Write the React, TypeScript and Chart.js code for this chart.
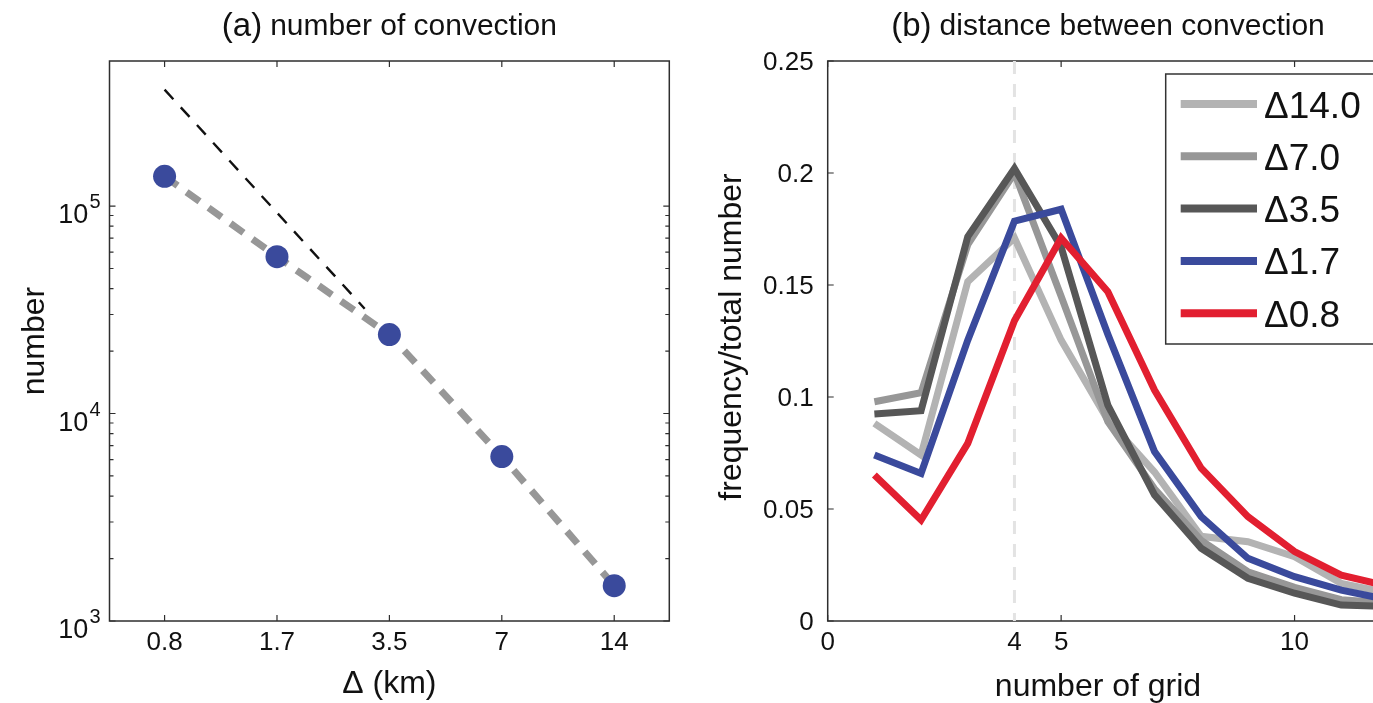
import React, { useEffect, useRef } from "react";
import { Chart, registerables } from "chart.js";

Chart.register(...registerables);

const FONT = '"Liberation Sans", Arial, Helvetica, sans-serif';

// ---- (a) number of convection vs grid spacing ----
const spacingLabels = ["0.8", "1.7", "3.5", "7", "14"];
const spacingIndex = [0, 1, 2, 3, 4];
const convectionCount = [1.39e5, 5.7e4, 2.4e4, 6.2e3, 1.48e3];
// reference slope (proportional to spacing^-2)
const slopeRefIndex = [0, 1.78];
const slopeRefCount = [3.64e5, 3.2e4];
const countDecades = [1e3, 1e4, 1e5];
const countExponents = ["3", "4", "5"];

// ---- (b) distance between convection ----
const gridDistance = [1, 2, 3, 4, 5, 6, 7, 8, 9, 10, 11, 12];
const seriesLabels = ["\u039414.0", "\u03947.0", "\u03943.5", "\u03941.7", "\u03940.8"];
const seriesColors = ["#b3b3b3", "#979797", "#575757", "#3a4a9c", "#e21f30"];
const freqD140 = [0.0882, 0.0741, 0.1515, 0.171, 0.1254, 0.0897, 0.0665, 0.0378, 0.0354, 0.0287, 0.0168, 0.0125];
const freqD070 = [0.0979, 0.1019, 0.168, 0.2, 0.145, 0.089, 0.059, 0.036, 0.022, 0.015, 0.0095, 0.008];
const freqD035 = [0.0924, 0.0939, 0.1716, 0.202, 0.167, 0.0964, 0.0563, 0.0325, 0.0191, 0.0124, 0.0071, 0.0065];
const freqD017 = [0.0741, 0.0659, 0.1254, 0.1785, 0.1838, 0.128, 0.0756, 0.0466, 0.028, 0.0198, 0.0138, 0.0095];
const freqD008 = [0.0652, 0.0451, 0.0793, 0.134, 0.171, 0.147, 0.1031, 0.0682, 0.0466, 0.031, 0.0205, 0.0155];
const seriesValues = [freqD140, freqD070, freqD035, freqD017, freqD008];
const freqTicks = [0, 0.05, 0.1, 0.15, 0.2, 0.25];
const freqTickLabels = ["0", "0.05", "0.1", "0.15", "0.2", "0.25"];
const distanceTicks = [0, 4, 5, 10];
const peakDistance = 4;

const AXIS_COLOR = "#2e2e2e";
const TICK_FONT = `26px ${FONT}`;
const LABEL_FONT = `32px ${FONT}`;

const axesA = {
  id: "axesA",
  afterDraw(chart: any) {
    const { ctx, chartArea: a, scales } = chart;
    const xs = scales.x;
    const ys = scales.y;
    ctx.save();
    ctx.strokeStyle = AXIS_COLOR;
    ctx.lineWidth = 1.5;
    ctx.strokeRect(a.left, a.top, a.right - a.left, a.bottom - a.top);
    ctx.lineWidth = 1.2;
    ctx.beginPath();
    spacingIndex.forEach((v) => {
      const px = xs.getPixelForValue(v);
      ctx.moveTo(px, a.bottom);
      ctx.lineTo(px, a.bottom - 6);
      ctx.moveTo(px, a.top);
      ctx.lineTo(px, a.top + 6);
    });
    countDecades.forEach((d, k) => {
      const last = k === countDecades.length - 1 ? 1 : 9;
      for (let m = 1; m <= last; m++) {
        const py = ys.getPixelForValue(m * d);
        const len = m === 1 ? 6 : 4;
        ctx.moveTo(a.left, py);
        ctx.lineTo(a.left + len, py);
        ctx.moveTo(a.right, py);
        ctx.lineTo(a.right - len, py);
      }
    });
    ctx.stroke();

    ctx.fillStyle = "#111";
    // x tick labels
    ctx.font = TICK_FONT;
    ctx.textAlign = "center";
    ctx.textBaseline = "alphabetic";
    spacingIndex.forEach((v, i) => {
      ctx.fillText(spacingLabels[i], xs.getPixelForValue(v), a.bottom + 29);
    });
    // y tick labels 10^k
    countDecades.forEach((d, i) => {
      const py = ys.getPixelForValue(d);
      ctx.font = `20px ${FONT}`;
      ctx.textAlign = "right";
      const supW = ctx.measureText(countExponents[i]).width;
      const right = a.left - 9;
      ctx.fillText(countExponents[i], right, py + 2);
      ctx.font = `27px ${FONT}`;
      ctx.fillText("10", right - supW - 1, py + 17);
    });
    // titles
    const cx = (a.left + a.right) / 2;
    drawTitle(ctx, "(a)", "number of convection", cx, 35);
    ctx.fillStyle = "#111";
    ctx.font = LABEL_FONT;
    ctx.textAlign = "center";
    ctx.fillText("\u0394 (km)", cx, 693);
    ctx.save();
    ctx.translate(44, (a.top + a.bottom) / 2);
    ctx.rotate(-Math.PI / 2);
    ctx.fillText("number", 0, 0);
    ctx.restore();
    ctx.restore();
  },
};

function drawTitle(ctx: any, tag: string, text: string, cx: number, baseline: number) {
  ctx.save();
  ctx.fillStyle = "#111";
  ctx.textBaseline = "alphabetic";
  ctx.textAlign = "left";
  ctx.font = `33px ${FONT}`;
  const tagW = ctx.measureText(tag).width;
  ctx.font = `30px ${FONT}`;
  const gap = 8;
  const textW = ctx.measureText(text).width;
  const x0 = cx - (tagW + gap + textW) / 2;
  ctx.font = `33px ${FONT}`;
  ctx.fillText(tag, x0, baseline + 1);
  ctx.font = `30px ${FONT}`;
  ctx.fillText(text, x0 + tagW + gap, baseline);
  ctx.restore();
}

const axesB = {
  id: "axesB",
  beforeDatasetsDraw(chart: any) {
    const { ctx, chartArea: a, scales } = chart;
    const xs = scales.x;
    const ys = scales.y;
    ctx.save();
    ctx.strokeStyle = AXIS_COLOR;
    ctx.lineWidth = 1.5;
    ctx.beginPath();
    ctx.moveTo(a.right + 2, a.top);
    ctx.lineTo(a.left, a.top);
    ctx.lineTo(a.left, a.bottom);
    ctx.lineTo(a.right + 2, a.bottom);
    ctx.stroke();
    ctx.lineWidth = 1.2;
    ctx.beginPath();
    distanceTicks.forEach((v) => {
      const px = xs.getPixelForValue(v);
      ctx.moveTo(px, a.bottom);
      ctx.lineTo(px, a.bottom - 6);
      ctx.moveTo(px, a.top);
      ctx.lineTo(px, a.top + 6);
    });
    freqTicks.forEach((v) => {
      const py = ys.getPixelForValue(v);
      ctx.moveTo(a.left, py);
      ctx.lineTo(a.left + 6, py);
    });
    ctx.stroke();
    // dashed marker at the most frequent distance
    const px4 = xs.getPixelForValue(peakDistance);
    ctx.strokeStyle = "#e3e3e3";
    ctx.lineWidth = 3;
    ctx.setLineDash([13, 10]);
    ctx.beginPath();
    ctx.moveTo(px4, a.top);
    ctx.lineTo(px4, a.bottom);
    ctx.stroke();
    ctx.restore();
  },
  afterDatasetsDraw(chart: any) {
    const { ctx, chartArea: a, scales } = chart;
    const xs = scales.x;
    const ys = scales.y;
    ctx.save();
    // legend
    const boxL = 475.7;
    const boxT = 74;
    ctx.fillStyle = "#fff";
    ctx.fillRect(boxL, boxT, 400, 270);
    ctx.strokeStyle = "#333";
    ctx.lineWidth = 1.5;
    ctx.strokeRect(boxL, boxT, 400, 270);
    seriesLabels.forEach((lab, i) => {
      const ry = 104 + 52.3 * i;
      ctx.strokeStyle = seriesColors[i];
      ctx.lineWidth = 8;
      ctx.lineCap = "butt";
      ctx.beginPath();
      ctx.moveTo(490.7, ry);
      ctx.lineTo(567, ry);
      ctx.stroke();
      ctx.fillStyle = "#111";
      ctx.font = `37px ${FONT}`;
      ctx.textAlign = "left";
      ctx.textBaseline = "alphabetic";
      ctx.fillText(lab, 574, ry + 13.5);
    });
    // tick labels
    ctx.fillStyle = "#111";
    ctx.font = TICK_FONT;
    ctx.textAlign = "center";
    distanceTicks.forEach((v) => {
      ctx.fillText(String(v), xs.getPixelForValue(v), a.bottom + 29);
    });
    ctx.textAlign = "right";
    freqTicks.forEach((v, i) => {
      ctx.fillText(freqTickLabels[i], a.left - 14, ys.getPixelForValue(v) + 9);
    });
    drawTitle(ctx, "(b)", "distance between convection", 418, 35);
    ctx.fillStyle = "#111";
    ctx.font = LABEL_FONT;
    ctx.textAlign = "center";
    ctx.fillText("number of grid", 408, 696);
    ctx.save();
    ctx.translate(51, 337);
    ctx.rotate(-Math.PI / 2);
    ctx.fillText("frequency/total number", 0, 0);
    ctx.restore();
    ctx.restore();
  },
};

export default function App() {
  const leftRef = useRef<HTMLCanvasElement | null>(null);
  const rightRef = useRef<HTMLCanvasElement | null>(null);

  useEffect(() => {
    const left = new Chart(leftRef.current as HTMLCanvasElement, {
      type: "line",
      data: {
        datasets: [
          {
            label: "number",
            data: spacingIndex.map((x, i) => ({ x, y: convectionCount[i] })),
            borderColor: "#979797",
            borderWidth: 7,
            borderDash: [16, 11],
            pointRadius: 11.5,
            pointHoverRadius: 11.5,
            pointBackgroundColor: "#3a4a9c",
            pointBorderWidth: 0,
          },
          {
            label: "slope",
            data: slopeRefIndex.map((x, i) => ({ x, y: slopeRefCount[i] })),
            borderColor: "#111",
            borderWidth: 2.4,
            borderDash: [13, 11],
            pointRadius: 0,
          },
        ],
      },
      options: {
        animation: false,
        responsive: false,
        events: [],
        layout: { padding: { left: 109.5, top: 61, right: 690 - 669.3, bottom: 703 - 621 } },
        scales: {
          x: { type: "linear", min: -0.49, max: 4.49, display: false },
          y: { type: "logarithmic", min: 1000, max: 5e5, display: false },
        },
        plugins: { legend: { display: false }, tooltip: { enabled: false } },
      },
      plugins: [axesA],
    } as any);

    const right = new Chart(rightRef.current as HTMLCanvasElement, {
      type: "line",
      data: {
        datasets: seriesLabels.map((label, i) => ({
          label,
          data: gridDistance.map((x, j) => ({ x, y: seriesValues[i][j] })),
          borderColor: seriesColors[i],
          borderWidth: 7,
          borderJoinStyle: "miter",
          pointRadius: 0,
          order: seriesLabels.length - 1 - i,
        })),
      },
      options: {
        animation: false,
        responsive: false,
        events: [],
        layout: { padding: { left: 137.7, top: 61, right: 0, bottom: 703 - 621 } },
        scales: {
          x: { type: "linear", min: 0, max: 11.68, display: false },
          y: { type: "linear", min: 0, max: 0.25, display: false },
        },
        plugins: { legend: { display: false }, tooltip: { enabled: false } },
      },
      plugins: [axesB],
    } as any);

    return () => {
      left.destroy();
      right.destroy();
    };
  }, []);

  return (
    <div
      style={{
        position: "absolute",
        left: 0,
        top: 0,
        width: 1373,
        height: 703,
        background: "#fff",
        overflow: "hidden",
      }}
    >
      <canvas
        ref={leftRef}
        width={690}
        height={703}
        style={{ position: "absolute", left: 0, top: 0, width: 690, height: 703 }}
      />
      <canvas
        ref={rightRef}
        width={683}
        height={703}
        style={{ position: "absolute", left: 690, top: 0, width: 683, height: 703 }}
      />
    </div>
  );
}
